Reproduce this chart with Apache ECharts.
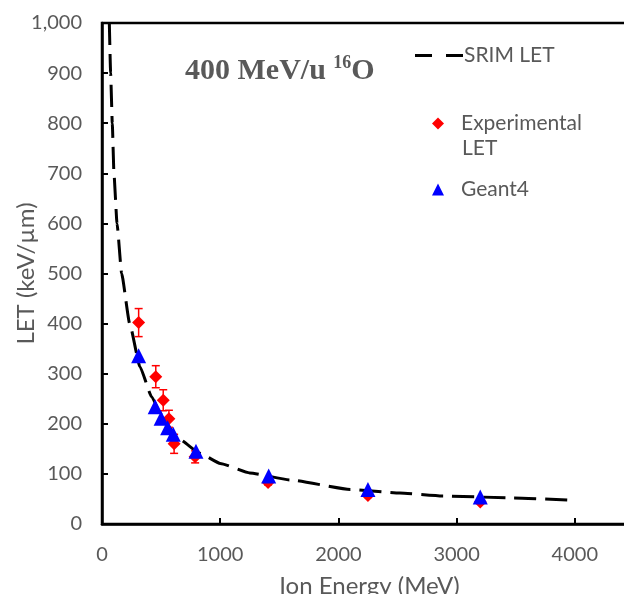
<!DOCTYPE html>
<html>
<head>
<meta charset="utf-8">
<script src="https://cdn.jsdelivr.net/npm/echarts@6/dist/echarts.min.js"></script>
<style>
html,body{margin:0;padding:0;background:#fff;}
#chart{width:624px;height:594px;}
</style>
</head>
<body>
<div id="chart"></div>
<script>
// SRIM LET curve
const srimEnergy = [62, 73, 87, 101, 127, 166, 234, 321, 420, 518, 660, 829, 1000, 1250, 1590, 2100, 2520, 2880, 3480, 4000];
const srimLET    = [1000, 900, 800, 700, 600, 500, 400, 314, 254, 207, 168, 141, 121, 102, 88, 69, 62, 56, 52, 47];
// Experimental LET with error
const expEnergy = [310, 455, 518, 566, 610, 788, 1405, 2250, 3200];
const expLET    = [402, 294, 247, 210, 160, 134, 83, 57, 44];
const expErr    = [28, 22, 21, 17, 19, 12, 5, 4, 3];
// Geant4
const g4Energy = [310, 450, 500, 555, 603, 795, 1410, 2250, 3200];
const g4LET    = [336, 234, 211, 192, 179, 145, 96, 69, 54];
// Axes
const xTicks = [0, 1000, 2000, 3000, 4000, 5000];
const yTicks = [0, 100, 200, 300, 400, 500, 600, 700, 800, 900, 1000];

const GRAY = '#595959';
const FONT = 'Lato';

const chart = echarts.init(document.getElementById('chart'), null, {renderer: 'canvas'});

const srimData = srimEnergy.map((e, i) => [e, srimLET[i]]);
const expData = expEnergy.map((e, i) => [e, expLET[i]]);
const errData = expEnergy.map((e, i) => [e, expLET[i] - expErr[i], expLET[i] + expErr[i]]);
const g4Data = g4Energy.map((e, i) => [e, g4LET[i]]);

function fmtThousands(v) {
  return String(v).replace(/\B(?=(\d{3})+(?!\d))/g, ',');
}

const legendText = {fontFamily: FONT, fontSize: 21, color: GRAY};

const option = {
  animation: false,
  backgroundColor: '#fff',
  title: {
    left: 180,
    top: 49,
    text: '{a|400 MeV/u }{s|16}{a|O}',
    textStyle: {
      rich: {
        a: {fontFamily: 'Liberation Serif', fontWeight: 'bold', fontSize: 30, color: GRAY, lineHeight: 34},
        s: {fontFamily: 'Liberation Serif', fontWeight: 'bold', fontSize: 18, color: GRAY, verticalAlign: 'top', lineHeight: 34}
      }
    }
  },
  legend: [
    {
      data: [{name: 'SRIM LET', icon: 'path://M0,0h17v3h-17z M31,0h17v3h-17z'}],
      left: 410, top: 40,
      itemWidth: 48, itemHeight: 3,
      textStyle: Object.assign({padding: [0, 0, 0, -4]}, legendText),
      selectedMode: false
    },
    {
      data: ['Experimental LET'],
      formatter: function () { return 'Experimental'; },
      left: 427, top: 108,
      itemWidth: 12, itemHeight: 12,
      textStyle: Object.assign({padding: [0, 0, 0, 12]}, legendText),
      selectedMode: false
    },
    {
      data: ['Geant4'],
      left: 427, top: 174,
      itemWidth: 12, itemHeight: 12,
      textStyle: Object.assign({padding: [0, 0, 0, 12]}, legendText),
      selectedMode: false
    }
  ],
  graphic: [
    {
      type: 'text', left: 462, top: 138, silent: true,
      style: {text: 'LET', fontFamily: FONT, fontSize: 21, fill: GRAY}
    }
  ],
  grid: {
    left: 102, top: 23, width: 591, height: 501,
    show: true, borderColor: '#000', borderWidth: 2.5, backgroundColor: 'transparent',
    containLabel: false, outerBoundsMode: 'none'
  },
  xAxis: {
    type: 'value', min: xTicks[0], max: xTicks[xTicks.length - 1], interval: 1000,
    name: 'Ion Energy (MeV)', nameLocation: 'middle', nameGap: 50, nameMoveOverlap: false,
    nameTextStyle: {fontFamily: FONT, fontSize: 24, color: GRAY, padding: [0, 56, 0, 0]},
    axisLine: {show: true, lineStyle: {color: '#000', width: 2.5}},
    axisTick: {show: true, inside: true, length: 6, lineStyle: {color: '#000', width: 2}},
    axisLabel: {fontFamily: FONT, fontSize: 20, color: GRAY, margin: 21, formatter: function (v) { return String(v); }},
    splitLine: {show: false}
  },
  yAxis: {
    type: 'value', min: yTicks[0], max: yTicks[yTicks.length - 1], interval: 100,
    name: 'LET (keV/µm)', nameLocation: 'middle', nameGap: 64, nameRotate: 90, nameMoveOverlap: false,
    nameTextStyle: {fontFamily: FONT, fontSize: 24, color: GRAY},
    axisLine: {show: true, lineStyle: {color: '#000', width: 2.5}},
    axisTick: {show: true, inside: true, length: 6, lineStyle: {color: '#000', width: 2}},
    axisLabel: {fontFamily: FONT, fontSize: 20, color: GRAY, margin: 20, formatter: fmtThousands},
    splitLine: {show: false}
  },
  series: [
    {
      name: 'SRIM LET', type: 'line', data: srimData, symbol: 'none',
      smooth: 0.15, smoothMonotone: 'x',
      lineStyle: {color: '#000', width: 3, type: [22, 9]},
      itemStyle: {color: '#000'},
      z: 1
    },
    {
      name: 'Experimental LET error', type: 'custom', data: errData, z: 2,
      renderItem: function (params, api) {
        const x = api.value(0);
        const lo = api.coord([x, api.value(1)]);
        const hi = api.coord([x, api.value(2)]);
        const hw = 4;
        const st = {stroke: '#FF0000', lineWidth: 1.5};
        return {
          type: 'group',
          children: [
            {type: 'line', shape: {x1: lo[0], y1: lo[1], x2: hi[0], y2: hi[1]}, style: st},
            {type: 'line', shape: {x1: lo[0] - hw, y1: lo[1], x2: lo[0] + hw, y2: lo[1]}, style: st},
            {type: 'line', shape: {x1: hi[0] - hw, y1: hi[1], x2: hi[0] + hw, y2: hi[1]}, style: st}
          ]
        };
      },
      encode: {x: 0, y: [1, 2]}
    },
    {
      name: 'Experimental LET', type: 'scatter', data: expData,
      symbol: 'diamond', symbolSize: 13,
      itemStyle: {color: '#FF0000', opacity: 1},
      z: 3
    },
    {
      name: 'Geant4', type: 'scatter', data: g4Data,
      symbol: 'triangle', symbolSize: 15,
      itemStyle: {color: '#0000FF', opacity: 1},
      z: 4
    }
  ]
};

chart.setOption(option);
</script>
</body>
</html>
